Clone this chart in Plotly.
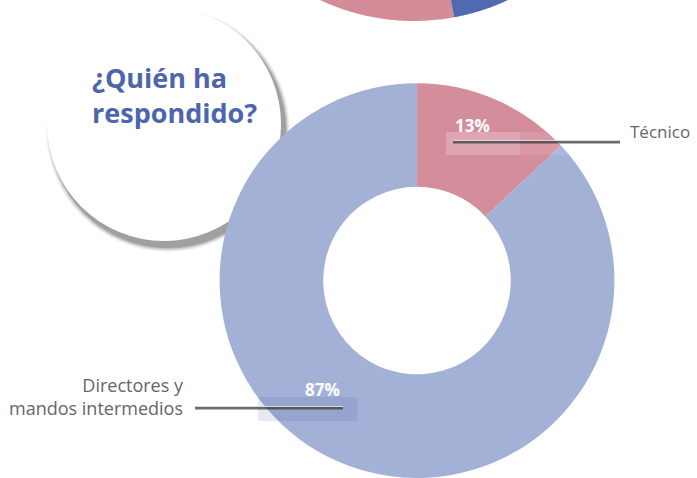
import plotly.graph_objects as go
import numpy as np

W, H = 697, 478

# data
categories = ["Técnico", "Directores y mandos intermedios"]
values = [13, 87]
label_text = ["Técnico", "Directores y<br>mandos intermedios"]
slice_colors = ["#d48d9b", "#a3b1d6"]
title_text = "¿Quién ha<br>respondido?"


def px(x):
    return x / W


def py(y):
    return 1 - y / H


fig = go.Figure()

fig.add_trace(go.Pie(
    labels=categories,
    values=values,
    sort=False,
    direction='clockwise',
    rotation=0,
    hole=0.475,
    textinfo='none',
    hoverinfo='label+percent',
    marker=dict(colors=slice_colors, line=dict(width=0)),
    domain=dict(x=[px(217), px(617)], y=[0, 0.826]),
    showlegend=False
))

shapes = []

# fragment of the previous chart cut off at the top
cx, cy, r = 414, -200, 221


def arc_path(a0, a1):
    ts = np.linspace(a0, a1, 60)
    pts = [(cx + r * np.cos(t), cy + r * np.sin(t)) for t in ts]
    d = f"M {px(cx)},{py(cy)} " + " ".join(f"L {px(x)},{py(y)}" for x, y in pts) + " Z"
    return d


split = np.arctan2(217, 40)
shapes.append(dict(type='path', xref='paper', yref='paper', path=arc_path(split, np.pi * 0.5 + 0.6),
                   fillcolor='#d48c99', line=dict(width=0), layer='below'))
shapes.append(dict(type='path', xref='paper', yref='paper', path=arc_path(np.pi * 0.5 - 0.6, split),
                   fillcolor='#5069b0', line=dict(width=0), layer='below'))

# title bubble with a soft shadow
bx, by, br = 164, 124, 117
for i, op in enumerate([0.04, 0.06, 0.08, 0.11, 0.15]):
    grow = 5 - i
    shapes.append(dict(type='circle', xref='paper', yref='paper',
                       x0=px(bx + 4 - br - grow), x1=px(bx + 4 + br + grow),
                       y0=py(by + 6 + br + grow), y1=py(by + 6 - br - grow),
                       fillcolor=f'rgba(0,0,0,{op})', line=dict(width=0), layer='below'))
shapes.append(dict(type='circle', xref='paper', yref='paper',
                   x0=px(bx - br), x1=px(bx + br), y0=py(by + br), y1=py(by - br),
                   fillcolor='white', line=dict(width=0), layer='below'))

# highlight boxes behind the percentages
shapes.append(dict(type='rect', xref='paper', yref='paper',
                   x0=px(446), x1=px(520), y0=py(155), y1=py(132),
                   fillcolor='rgba(255,255,255,0.22)', line=dict(width=0), layer='above'))
shapes.append(dict(type='rect', xref='paper', yref='paper',
                   x0=px(520), x1=px(570), y0=py(155), y1=py(132),
                   fillcolor='rgba(255,255,255,0.1)', line=dict(width=0), layer='above'))
shapes.append(dict(type='rect', xref='paper', yref='paper',
                   x0=px(258), x1=px(357), y0=py(421), y1=py(397),
                   fillcolor='rgba(60,80,150,0.12)', line=dict(width=0), layer='above'))

# leader lines
for x0, x1, y in [(453, 620, 141), (195, 343, 407)]:
    shapes.append(dict(type='line', xref='paper', yref='paper',
                       x0=px(x0), x1=px(x1), y0=py(y + 1), y1=py(y + 1),
                       line=dict(color='rgba(60,60,60,0.75)', width=3), layer='above'))
    shapes.append(dict(type='line', xref='paper', yref='paper',
                       x0=px(x0), x1=px(x1), y0=py(y - 0.5), y1=py(y - 0.5),
                       line=dict(color='#d9d9d9', width=1.2), layer='above'))

annotations = [
    dict(text=title_text, x=px(90), y=py(95), xref='paper', yref='paper',
         xanchor='left', yanchor='middle', align='left', showarrow=False,
         font=dict(family='Open Sans', size=27, color='#4d65ad', weight='bold')),
    dict(text=label_text[0], x=px(628), y=py(132), xref='paper', yref='paper',
         xanchor='left', yanchor='middle', showarrow=False,
         font=dict(family='Open Sans', size=17, color='#666666')),
    dict(text=label_text[1], x=px(186), y=py(396), xref='paper', yref='paper',
         xanchor='right', yanchor='middle', align='right', showarrow=False,
         font=dict(family='Open Sans', size=18, color='#666666')),
    dict(text=f"{values[0]}%", x=px(472), y=py(125), xref='paper', yref='paper',
         xanchor='center', yanchor='middle', showarrow=False,
         font=dict(family='Open Sans', size=17, color='white', weight='bold')),
    dict(text=f"{values[1]}%", x=px(322), y=py(389), xref='paper', yref='paper',
         xanchor='center', yanchor='middle', showarrow=False,
         font=dict(family='Open Sans', size=17, color='white', weight='bold')),
]

fig.update_layout(
    width=W, height=H,
    margin=dict(l=0, r=0, t=0, b=0),
    paper_bgcolor='white',
    plot_bgcolor='white',
    shapes=shapes,
    annotations=annotations
)

# drop the page's default body margin so the figure sits at the window corner
fig.write_html("out.html", config={'displayModeBar': False},
               post_script="document.body.style.margin='0';")
